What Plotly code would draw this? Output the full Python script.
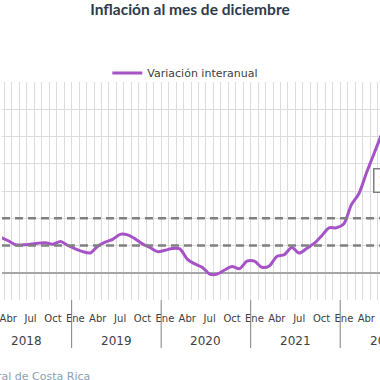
import plotly.graph_objects as go

# ---- data ----
years = [2018, 2019, 2020, 2021, 2022]
month_names = ["Ene", "Feb", "Mar", "Abr", "May", "Jun", "Jul", "Ago", "Sep", "Oct", "Nov", "Dic"]
labeled_months = ["Ene", "Abr", "Jul", "Oct"]

# monthly index from Mar-2018 (index 2, Jan-2018 = 0) to Jun-2022
start_index = 2
inflation = [
    2.60, 2.35, 2.05, 2.05, 2.10, 2.17, 2.20, 2.10, 2.30, 2.00,      # Mar-Dec 2018
    1.75, 1.55, 1.45, 1.95, 2.25, 2.45, 2.82, 2.78, 2.50, 2.12, 1.85, 1.55,  # 2019
    1.65, 1.78, 1.75, 1.00, 0.65, 0.40, -0.10, -0.10, 0.20, 0.46, 0.30, 0.85,  # 2020
    0.85, 0.40, 0.50, 1.20, 1.32, 1.86, 1.45, 1.78, 2.15, 2.70, 3.30, 3.30,  # 2021
    3.60, 5.00, 5.80, 7.30, 8.70, 10.10,  # Jan-Jun 2022
]
target_low = 2
target_high = 4
series_name = "Variación interanual"
title_text = "Inflación al mes de diciembre"
source_text = "Fuente: Banco Central de Costa Rica"
box_text = "10,1%"

x_idx = list(range(start_index, start_index + len(inflation)))

W, H = 380, 380
M_T, M_B = 82, 80
plot_h = H - M_T - M_B
PX_PER_MONTH = 7.5
X_MIN = (0 + 16.25) / PX_PER_MONTH
X_MAX = (W + 16.25) / PX_PER_MONTH

def py(px):
    """pixel y -> paper y"""
    return (H - M_B - px) / plot_h

fig = go.Figure()
fig.add_trace(go.Scatter(
    x=x_idx, y=inflation, mode="lines", name=series_name,
    line=dict(color="#A653C7", width=3, shape="spline", smoothing=0.8),
    showlegend=True, hoverinfo="skip",
))

# tick labels
tickvals, ticktext = [], []
for yi, yr in enumerate(years):
    for m in labeled_months:
        tickvals.append(yi * 12 + month_names.index(m))
        ticktext.append(m)

shapes = []
for v in (target_low, target_high):
    shapes.append(dict(type="line", xref="paper", x0=0, x1=1, yref="y", y0=v, y1=v,
                       line=dict(color="#808080", width=2.5, dash="8px,5px"), layer="above"))
for yi in range(1, len(years)):
    b = yi * 12 - 0.5
    shapes.append(dict(type="line", xref="x", x0=b, x1=b, yref="paper", y0=0, y1=py(348),
                       line=dict(color="#808080", width=1)))

annotations = []
for yi, yr in enumerate(years):
    center = yi * 12 + 5.5
    xa = min(max(center, X_MIN), X_MAX)
    annotations.append(dict(x=xa, xref="x", xshift=(center - xa) * PX_PER_MONTH,
                            y=py(341), yref="paper",
                            text=str(yr), showarrow=False, yanchor="middle",
                            font=dict(family="DejaVu Sans", size=12, color="#404040")))
annotations.append(dict(x=90 / W, xref="paper", xanchor="right", y=py(376), yref="paper",
                        yanchor="middle", text=source_text, showarrow=False,
                        font=dict(family="DejaVu Sans", size=11, color="#8aa0b4")))
annotations.append(dict(x=373 / W, xref="paper", xanchor="left", y=py(180), yref="paper",
                        yanchor="middle", text=box_text, showarrow=False,
                        bordercolor="#808080", borderwidth=1.5, borderpad=4, bgcolor="white",
                        font=dict(family="DejaVu Sans", size=12, color="#404040")))

fig.update_layout(
    width=W, height=H,
    margin=dict(l=0, r=0, t=M_T, b=M_B, pad=0),
    paper_bgcolor="white", plot_bgcolor="white",
    title=dict(text="<b>" + title_text + "</b>", x=0.5, xanchor="center",
               y=(H - 10) / H, yanchor="middle",
               font=dict(family="Lato", size=15.5, color="#2e3b4e")),
    legend=dict(orientation="h", x=0.485, xanchor="center", y=py(73), yanchor="middle",
                font=dict(family="DejaVu Sans", size=11, color="#404040"),
                bgcolor="rgba(0,0,0,0)"),
    xaxis=dict(range=[X_MIN, X_MAX], tickvals=tickvals, ticktext=ticktext,
               showgrid=False, zeroline=False, showline=False,
               ticks="outside", ticklen=9, tickcolor="rgba(0,0,0,0)",
               ticklabeloverflow="allow",
               tickfont=dict(family="DejaVu Sans", size=10, color="#404040"),
               minor=dict(tick0=0.5, dtick=1, showgrid=True, gridcolor="#dcdcdc", gridwidth=1)),
    yaxis=dict(range=[-2, 14], dtick=2, showticklabels=False, showgrid=True,
               gridcolor="#dcdcdc", gridwidth=1,
               zeroline=True, zerolinecolor="#a6a6a6", zerolinewidth=1.5),
    shapes=shapes, annotations=annotations,
    hovermode=False,
)

fig.write_html("out.html", config={"displayModeBar": False, "staticPlot": True},
               post_script="document.body.style.margin='0';document.body.style.overflow='hidden';")
